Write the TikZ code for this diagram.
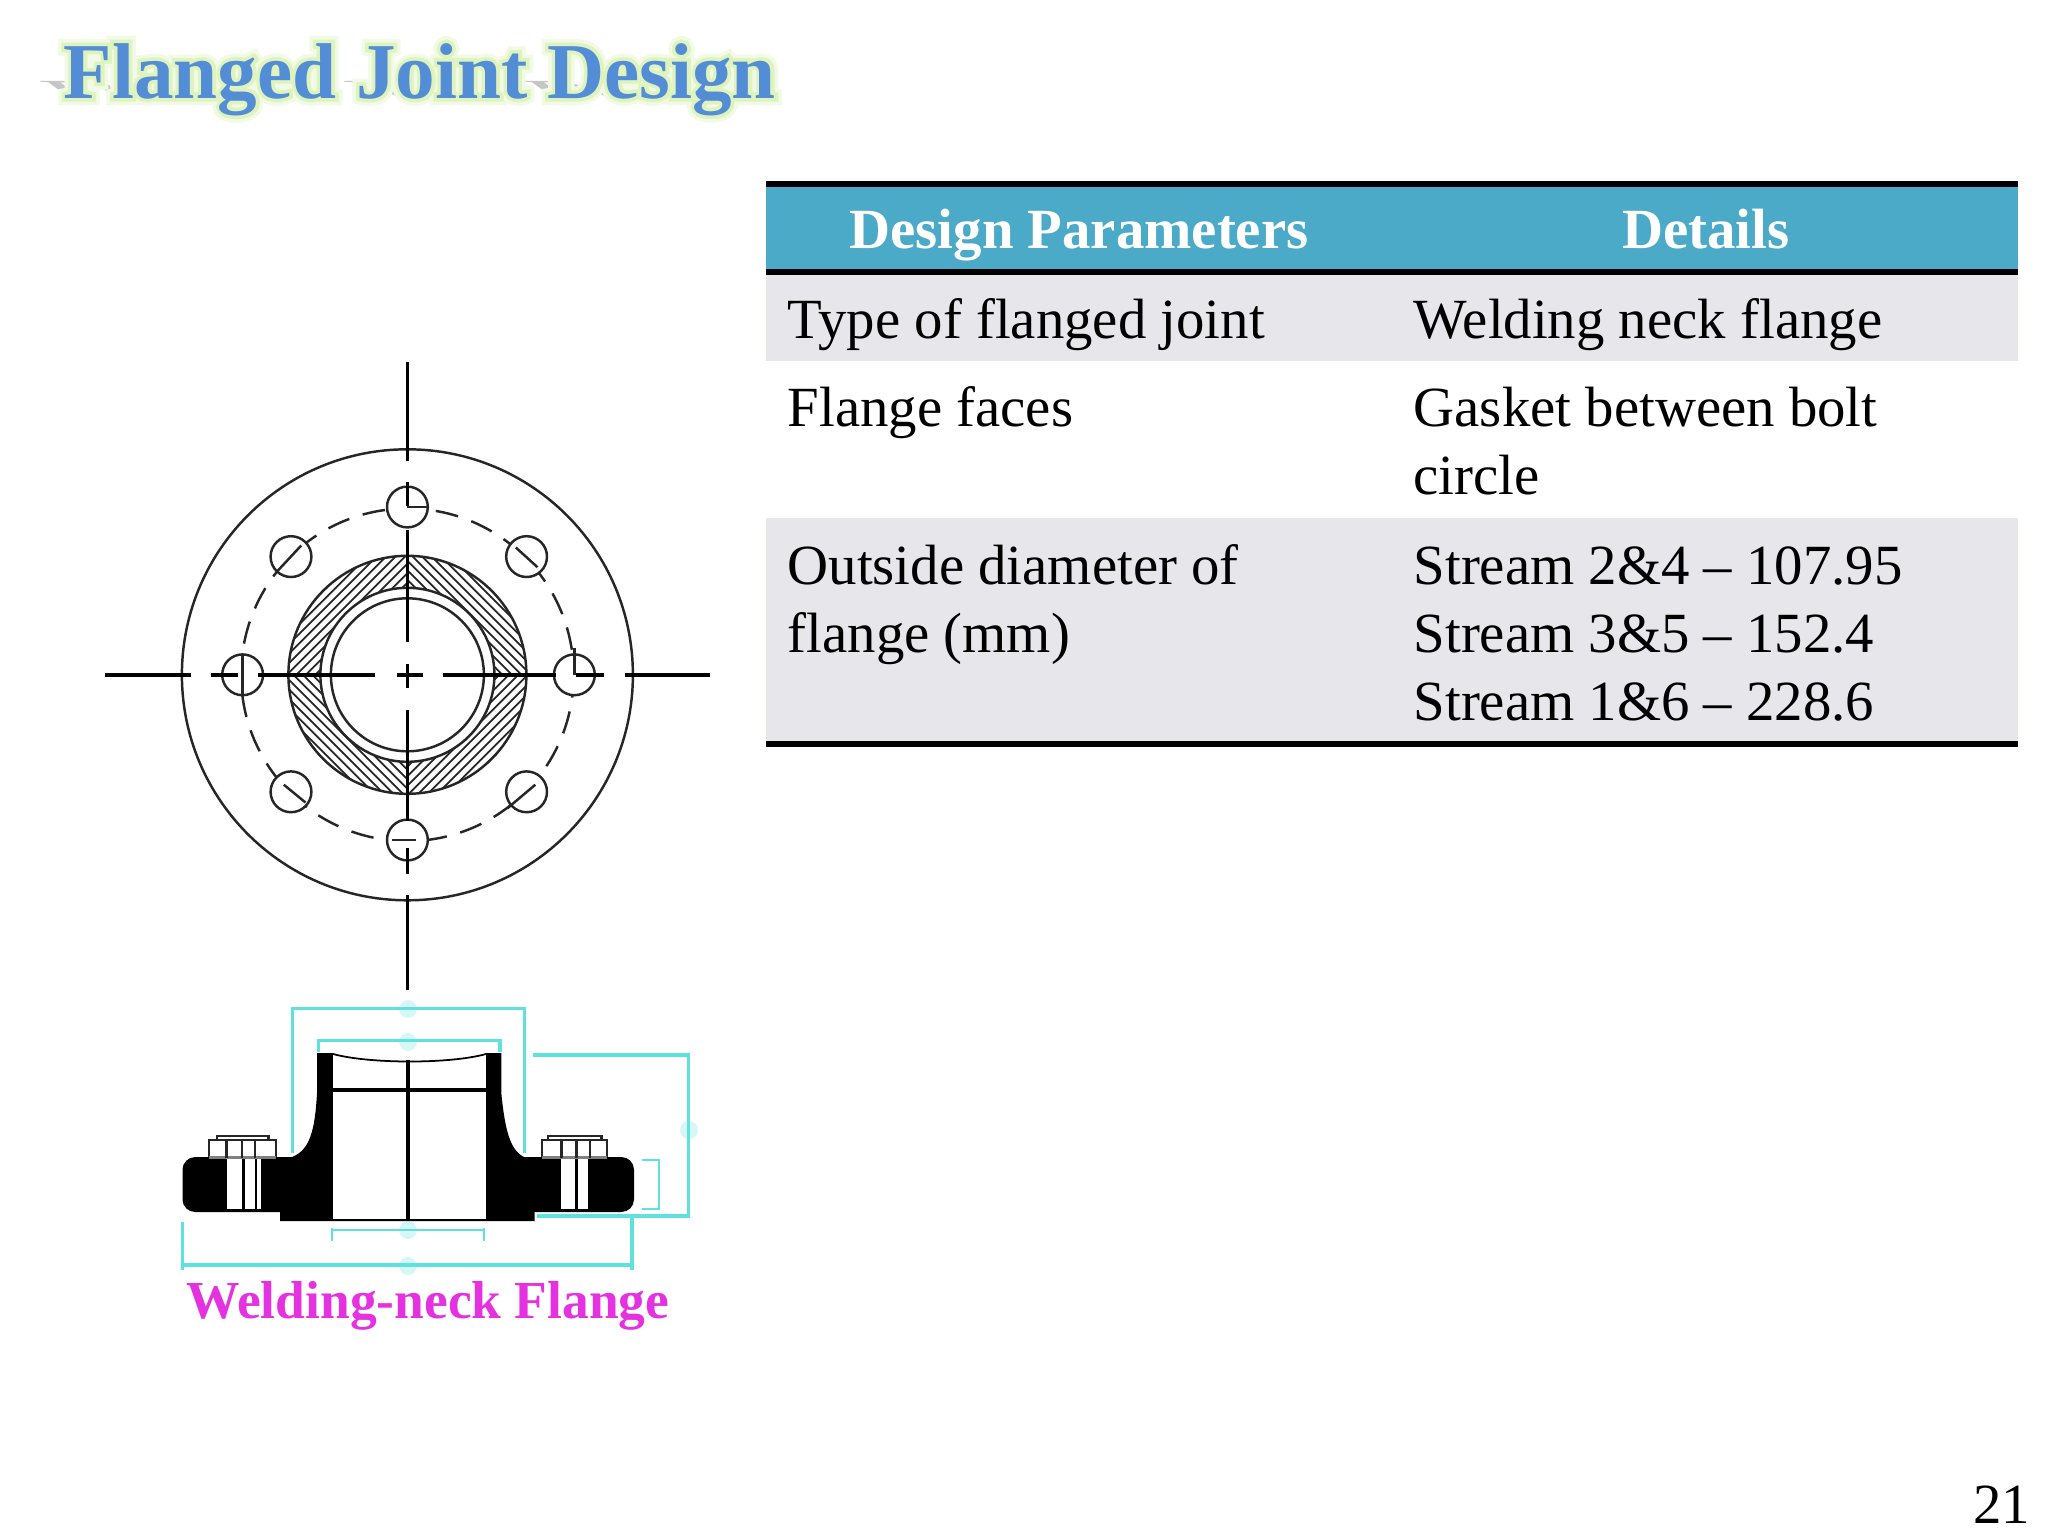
\documentclass[tikz,border=0pt]{standalone}
\usepackage{fontspec}
\setmainfont{Liberation Serif}
\newfontface\glowwide[FakeBold=18]{Liberation Serif Bold}
\newfontface\glownarrow[FakeBold=9]{Liberation Serif Bold}
\usetikzlibrary{positioning, calc}
\definecolor{headblue}{RGB}{75,170,200}
\definecolor{rowgrey}{RGB}{231,230,235}
\definecolor{titleblue}{RGB}{83,141,213}
\definecolor{glowin}{RGB}{222,243,190}
\definecolor{glowout}{RGB}{241,250,228}
\definecolor{dimcyan}{RGB}{95,225,222}
\definecolor{pinktext}{RGB}{228,50,225}
\tikzstyle{cell} = [anchor=base west, inner sep=0pt, font=\fontsize{16.15}{19}\selectfont]
\tikzstyle{headcell} = [anchor=base, inner sep=0pt, text=white, font=\fontsize{16.15}{19}\selectfont\bfseries]
\tikzstyle{rule} = [line width=1.7pt, line cap=butt]
\tikzstyle{axis} = [line width=1pt]
\tikzstyle{thin} = [line width=.7pt, draw=black!85]
\tikzstyle{hole} = [thin, fill=white]
\tikzstyle{hatch} = [line width=.5pt, draw=black!85]
\tikzstyle{dim} = [draw=dimcyan, line width=.95pt]
\tikzstyle{dimmark} = [fill=dimcyan, opacity=.25]
\tikzstyle{titletext} = [anchor=base west, inner sep=0pt, font=\fontsize{22.5}{26}\selectfont\bfseries]
\newcommand{\titlewords}{Flanged Joint Design}

\begin{document}
\begin{tikzpicture}[x=.01cm, y=-.01cm]
  \useasboundingbox (0,0) rectangle (2048,1536);

  % title
  \node[titletext, text=gray, opacity=.45, xslant=-1.4, yscale=.35, transform shape] (titleshadow) at (63,99) {\titlewords};
  \node[titletext, text=glowout] (glowa) at (63,98) {\glowwide\titlewords};
  \node[titletext, text=glowin] (glowb) at (63,98) {\glownarrow\titlewords};
  \node[titletext, text=titleblue] (title) at (63,98) {\titlewords};

  % table
  \fill[headblue] (766,184) rectangle (2018,272);
  \fill[rowgrey] (766,272) rectangle (2018,361);
  \fill[rowgrey] (766,518) rectangle (2018,743);
  \draw[rule] (766,184) -- (2018,184);
  \draw[rule] (766,272) -- (2018,272);
  \draw[rule] (766,743.5) -- (2018,743.5);
  \node[headcell] (parhead) at (1079,248) {Design Parameters};
  \node[headcell] (dethead) at (1706,248) {Details};
  \node[cell] (type) at (787,338) {Type of flanged joint};
  \node[cell] (typeval) at (1413,338) {Welding neck flange};
  \node[cell] (faces) at (787,426) {Flange faces};
  \node[cell] (facesval) at (1413,426) {Gasket between bolt};
  \node[cell] (facesvalb) at (1413,494) {circle};
  \node[cell] (dia) at (787,584) {Outside diameter of};
  \node[cell] (diab) at (787,652) {flange (mm)};
  \node[cell] (streama) at (1413,584) {Stream 2\&4 -- 107.95};
  \node[cell] (streamb) at (1413,652) {Stream 3\&5 -- 152.4};
  \node[cell] (streamc) at (1413,720) {Stream 1\&6 -- 228.6};
  \node[cell, anchor=base east] (page) at (2031,1523) {21};

  % front view
  \coordinate (c) at (407.4,674.8);
  \draw[thin] (c) circle (225.5);
  \draw[thin, dash pattern=on 6.5pt off 4pt] (c) circle (166.3);
  \begin{scope}
    \clip (c) circle (119);
    \clip (c) ++(-119,-119) rectangle (c);
    \foreach \i in {-30,...,30}
      \draw[hatch] ($(c)+(-130+\i*9.5,0)+(-140,140)$) -- ++(300,-300);
  \end{scope}
  \begin{scope}
    \clip (c) circle (119);
    \clip (c) ++(0,0) rectangle ++(119,119);
    \foreach \i in {-30,...,30}
      \draw[hatch] ($(c)+(130+\i*9.5,0)+(-140,140)$) -- ++(300,-300);
  \end{scope}
  \begin{scope}
    \clip (c) circle (119);
    \clip (c) ++(0,-119) rectangle ++(119,119);
    \foreach \i in {-30,...,30}
      \draw[hatch] ($(c)+(\i*9.5,0)+(-140,-140)$) -- ++(300,300);
  \end{scope}
  \begin{scope}
    \clip (c) circle (119);
    \clip (c) ++(-119,0) rectangle ++(119,119);
    \foreach \i in {-30,...,30}
      \draw[hatch] ($(c)+(\i*9.5,0)+(-140,-140)$) -- ++(300,300);
  \end{scope}
  \draw[thin] (c) circle (119);
  \draw[thin, fill=white] (c) circle (87);
  \draw[thin] (c) circle (76.5);

  % bolt holes
  \foreach \n/\x/\y in {top/407.4/507, bot/407.4/840, lft/242.6/674.8, rgt/574.4/674.8,
      tl/291/556.6, tr/526.6/556.6, bl/291/791.8, br/526.6/791.8}
    \node[hole, circle, minimum size=.408cm, inner sep=0pt] (hole\n) at (\x,\y) {};
  \draw[thin] (holetop.center) -- (holetop.east);
  \draw[thin] (277.3,571.2) -- (301.2,545.5);
  \draw[thin] (515.8,547.5) -- (537.5,567.2);
  \draw[thin] (283.8,784.7) -- (305.5,802.5);
  \draw[thin] (507.1,808.5) -- (535.3,784.7);
  \draw[thin] (392,840) -- (416,840);
  \draw[thin] (242.6,654) -- (242.6,695);
  \draw[thin] (574.4,648) -- (574.4,675);

  % centre lines
  \foreach \a/\b in {105/190.6, 211.4/238, 258/375, 396.6/422.6, 443.4/556, 576/604, 624.7/709.7}
    \draw[axis] (\a,674.8) -- (\b,674.8);
  \foreach \a/\b in {361.6/460.5, 482/506, 530/642, 664/688, 709.6/821, 848/873.7, 895.4/990}
    \draw[axis] (407.4,\a) -- (407.4,\b);

  % section view
  \fill[rounded corners=3.6pt] (182.5,1157) rectangle (634,1212);
  \fill (317,1053) -- (317,1093) .. controls (315,1130) and (310,1150) .. (292,1157)
    -- (280,1157) -- (280,1221) -- (534.6,1221) -- (534.6,1157) -- (524,1157)
    .. controls (510,1150) and (505,1130) .. (501.3,1093) -- (501.3,1053) -- cycle;
  \fill[white] (333,1050) rectangle (486,1218.5);
  \draw[line width=.5pt] (333,1054) .. controls (370,1064) and (450,1064) .. (486,1054);
  \draw[axis] (333,1090) -- (486,1090);
  \draw[axis] (408,1060) -- (408,1220);

  % bolts
  \foreach \a/\b in {226.5/241.8, 245/255, 257/261, 561/575, 578/588}
    \fill[white] (\a,1158) rectangle (\b,1209);
  \foreach \a/\b/\d/\e in {209/276/217/268.6, 542/607/548/601.6} {
    \draw[thin] (\a,1157) -- (\a,1140) -- (\b,1140) -- (\b,1157);
    \draw[thin] (\d,1140) -- (\d,1136) -- (\e,1136) -- (\e,1140);
    \draw[gray, line width=.8pt] (\a,1157.5) -- (\b,1157.5);
  }
  \foreach \a in {226.5,241.8,255,561.4,576.7,590}
    \draw[thin] (\a,1140) -- (\a,1158);

  % dimensions
  \draw[dim] (292.4,1153) -- (292.4,1008.3) -- (524.3,1008.3) -- (524.3,1153);
  \draw[dim] (318.4,1051.7) -- (318.4,1040.7) -- (500,1040.7) -- (500,1051.7);
  \draw[dim] (532.7,1055) -- (688.8,1055) -- (688.8,1216) -- (536.5,1216);
  \draw[dim, line width=.6pt] (641.8,1160) -- (659,1160) -- (659,1209.3) -- (641.8,1209.3);
  \draw[dim, line width=.6pt] (331.8,1228) -- (331.8,1241);
  \draw[dim, line width=.6pt] (484,1228) -- (484,1241);
  \draw[dim, line width=.6pt] (331.8,1230) -- (484,1230);
  \draw[dim] (182.5,1222) -- (182.5,1270);
  \draw[dim] (632,1214) -- (632,1270);
  \draw[dim] (182.5,1265) -- (632,1265);
  \foreach \x/\y in {408/1009, 408/1042, 408/1230, 689/1130, 408/1266}
    \fill[dimmark] (\x,\y) circle (9);

  \node[anchor=base west, inner sep=0pt, text=pinktext, font=\fontsize{15.2}{18}\selectfont\bfseries] (caption) at (186,1318) {Welding-neck Flange};
\end{tikzpicture}
\end{document}
